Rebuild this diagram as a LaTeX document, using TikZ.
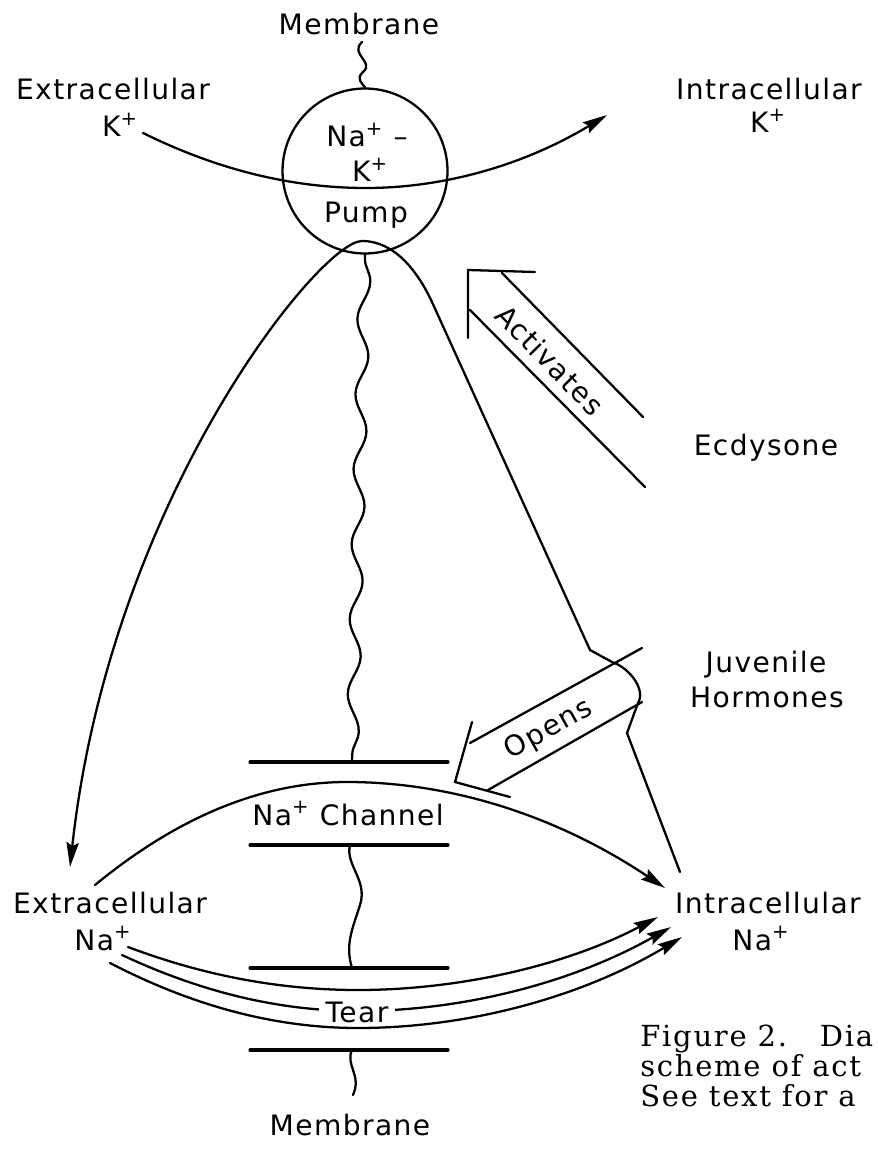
\documentclass[tikz,border=0pt]{standalone}
\usepackage{fontspec}
\setmainfont{DejaVu Sans}[LetterSpace=5]
\newfontfamily\capfont{DejaVu Serif}[LetterSpace=6]
\usetikzlibrary{arrows.meta,decorations.pathmorphing}

\tikzset{
  lbl/.style={font=\fontsize{16}{19}\selectfont, inner sep=0pt, anchor=base},
  capline/.style={font=\capfont\fontsize{16.5}{20}\selectfont, inner sep=0pt, anchor=base west},
  flow/.style={line width=1.3pt, line cap=round, line join=miter},
  tiphead/.style={-{Stealth[length=14pt,width=7pt,inset=2pt]}},
  memb/.style={line width=1.8pt, line cap=round},
  wavy/.style={decorate, decoration={snake, segment length=#1, amplitude=3.4pt, pre length=2pt, post length=2pt}}
}

\begin{document}
\begin{tikzpicture}[x=0.02cm, y=-0.02cm]
\useasboundingbox (0,0) rectangle (877,1152);

% pump and its labels
\node (pump) [circle, draw, line width=1.3pt, minimum size=3.3cm, inner sep=0pt] at (365,171) {};
\node (naK) [lbl] at (367,147) {Na\textsuperscript{+} –};
\node (kin) [lbl] at (370,182) {K\textsuperscript{+}};
\node (pumplbl) [lbl] at (366,222) {Pump};
\node (memtop) [lbl] at (359,35) {Membrane};

% ions
\node (extk) [lbl] at (113,100) {Extracellular};
\node (extkion) [lbl] at (120,137) {K\textsuperscript{+}};
\node (intk) [lbl] at (769,100) {Intracellular};
\node (intkion) [lbl] at (768,133) {K\textsuperscript{+}};
\node (extna) [lbl] at (110,913) {Extracellular};
\node (extnaion) [lbl] at (103,950) {Na\textsuperscript{+}};
\node (intna) [lbl] at (768,913) {Intracellular};
\node (intnaion) [lbl] at (761,950) {Na\textsuperscript{+}};

% hormones
\node (ecd) [lbl] at (766,455) {Ecdysone};
\node (juv) [lbl] at (766,672) {Juvenile};
\node (horm) [lbl] at (767,707) {Hormones};

% channel and membrane bars
\node (chan) [lbl] at (348,825) {Na\textsuperscript{+} Channel};
\node (membot) [lbl] at (350,1135) {Membrane};
\coordinate (b1) at (352,762);
\coordinate (b2) at (350,845);
\coordinate (b3) at (352,968);
\coordinate (b4) at (352,1050);
\foreach \y in {762,845,968,1050}
  \draw[memb] (250,\y) -- (448,\y);

% membrane squiggles
\coordinate (topw) at (362,42);
\draw[flow] (topw) .. controls (349,54) and (375,62) .. (363,72) .. controls (355,79) and (363,84) .. (pump.north);
\draw[flow, wavy=1.5cm] (pump.south) -- (b1);
\draw[flow] (b2) .. controls (345,865) and (368,880) .. (360,905) .. controls (352,930) and (345,945) .. (b3);
\coordinate (botw) at (353,1095);
\draw[flow] (b4) .. controls (345,1065) and (362,1075) .. (botw);

% K+ through the pump
\coordinate (kstart) at (143,133);
\coordinate (kend) at (607,115);
\draw[flow, tiphead] (kstart) .. controls (218,170) and (292,188) .. (366,188) .. controls (446,188) and (526,164) .. (kend);

% pump arch
\coordinate (apex) at (362,241);
\coordinate (extnatip) at (70,867);
\coordinate (intnajoin) at (680,872);
\draw[flow, tiphead] (apex) .. controls (320,241) and (110,500) .. (extnatip);
\draw[flow] (apex) .. controls (395,241) and (418,272) .. (432,302) -- (590,650) -- (612,662)
  .. controls (630,668) and (646,690) .. (638,703) -- (627,733) -- (intnajoin);

% channel flux
\coordinate (chanstart) at (95,885);
\coordinate (chanend) at (665,888);
\draw[flow, tiphead] (chanstart) .. controls (179,816) and (263,782) .. (347,782) .. controls (453,782) and (559,817) .. (chanend);

% tear flux
\coordinate (t1s) at (128,947);
\coordinate (t1e) at (658,917);
\coordinate (t2s) at (122,955);
\coordinate (t2e) at (671,927);
\coordinate (t3s) at (110,963);
\coordinate (t3e) at (682,937);
\draw[flow, tiphead] (t1s) .. controls (205,976) and (281,990) .. (358,990) .. controls (458,990) and (565,966) .. (t1e);
\draw[flow, tiphead] (t2s) .. controls (201,992) and (279,1011) .. (358,1011) .. controls (462,1011) and (572,983) .. (t2e);
\draw[flow, tiphead] (t3s) .. controls (193,1006) and (275,1028) .. (358,1028) .. controls (466,1028) and (580,998) .. (t3e);
\node (tear) [lbl, fill=white, inner xsep=4pt, inner ysep=1pt] at (357,1022) {Tear};

% activates arrow
\coordinate (act1) at (643,417);
\coordinate (act2) at (645,487);
\coordinate (actc) at (468,270);
\draw[flow] (act1) -- (502,273);
\draw[flow] (act2) -- (470,310);
\draw[flow] (535,272) -- (actc) -- (468,338);
\node (activ) [lbl, anchor=center, rotate=-45.5] at (550,360) {Activates};

% opens arrow
\coordinate (op1) at (642,648);
\coordinate (op2) at (642,702);
\coordinate (opc) at (455,782);
\draw[flow] (op1) -- (470,743);
\draw[flow] (op2) -- (488,790);
\draw[flow] (472,722) -- (opc) -- (510,797);
\node (opens) [lbl, anchor=center, rotate=29] at (549,730) {Opens};

% caption
\node (fig1) [capline] at (640,1046) {Figure 2.\ \ \ Dia};
\node (fig2) [capline] at (640,1076) {scheme of act};
\node (fig3) [capline] at (640,1106) {See text for a};
\end{tikzpicture}
\end{document}
